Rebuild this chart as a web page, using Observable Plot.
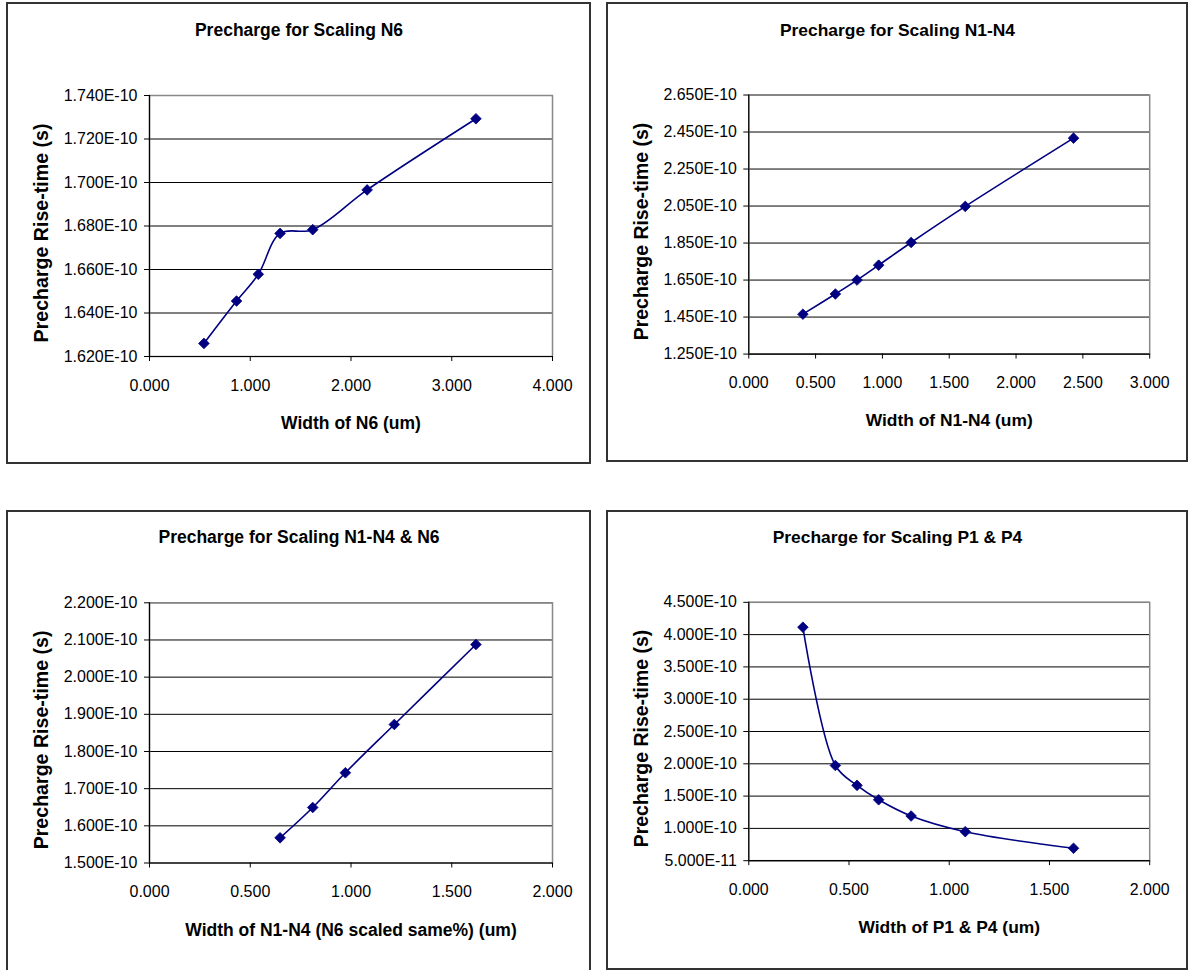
<!DOCTYPE html>
<html>
<head>
<meta charset="utf-8">
<script src="https://cdn.jsdelivr.net/npm/d3@7"></script>
<script src="https://cdn.jsdelivr.net/npm/@observablehq/plot@0.6"></script>
<style>
  html, body { margin: 0; padding: 0; background: #fff; width: 1188px; height: 970px; overflow: hidden; }
  .panel { position: absolute; }
  .panel svg { display: block; outline: 2px solid #333; outline-offset: -2px; background: #fff; }
</style>
</head>
<body>
<div id="pA" class="panel" style="left:6px; top:2px;"></div>
<div id="pB" class="panel" style="left:606px; top:2px;"></div>
<div id="pC" class="panel" style="left:6px; top:510px;"></div>
<div id="pD" class="panel" style="left:606px; top:510px;"></div>
<script>
// ---- Panel A: Scaling N6 ----
const titleA = "Precharge for Scaling N6";
const xLabelA = "Width of N6 (um)";
const widthA = [0.54, 0.864, 1.08, 1.296, 1.62, 2.16, 3.24];
const riseA = [1.626e-10, 1.6455e-10, 1.6578e-10, 1.6766e-10, 1.6783e-10, 1.6966e-10, 1.7293e-10];
const xTicksA = [0, 1, 2, 3, 4];
const yTicksA = [1.62e-10, 1.64e-10, 1.66e-10, 1.68e-10, 1.70e-10, 1.72e-10, 1.74e-10];

// ---- Panel B: Scaling N1-N4 ----
const titleB = "Precharge for Scaling N1-N4";
const xLabelB = "Width of N1-N4 (um)";
const widthB = [0.405, 0.648, 0.81, 0.972, 1.215, 1.62, 2.43];
const riseB = [1.4656e-10, 1.5747e-10, 1.650e-10, 1.7306e-10, 1.853e-10, 2.048e-10, 2.417e-10];
const xTicksB = [0, 0.5, 1, 1.5, 2, 2.5, 3];
const yTicksB = [1.25e-10, 1.45e-10, 1.65e-10, 1.85e-10, 2.05e-10, 2.25e-10, 2.45e-10, 2.65e-10];

// ---- Panel C: Scaling N1-N4 & N6 ----
const titleC = "Precharge for Scaling N1-N4 & N6";
const xLabelC = "Width of N1-N4 (N6 scaled same%) (um)";
const widthC = [0.648, 0.81, 0.972, 1.215, 1.62];
const riseC = [1.5678e-10, 1.6493e-10, 1.7427e-10, 1.8726e-10, 2.0878e-10];
const xTicksC = [0, 0.5, 1, 1.5, 2];
const yTicksC = [1.5e-10, 1.6e-10, 1.7e-10, 1.8e-10, 1.9e-10, 2.0e-10, 2.1e-10, 2.2e-10];

// ---- Panel D: Scaling P1 & P4 ----
const titleD = "Precharge for Scaling P1 & P4";
const xLabelD = "Width of P1 & P4 (um)";
const widthD = [0.27, 0.432, 0.54, 0.648, 0.81, 1.08, 1.62];
const riseD = [4.115e-10, 1.974e-10, 1.666e-10, 1.443e-10, 1.192e-10, 0.949e-10, 0.692e-10];
const xTicksD = [0, 0.5, 1, 1.5, 2];
const yTicksD = [0.5e-10, 1.0e-10, 1.5e-10, 2.0e-10, 2.5e-10, 3.0e-10, 3.5e-10, 4.0e-10, 4.5e-10];

const yLabel = "Precharge Rise-time (s)";
const navy = "#000080";
const fontFamily = "'Liberation Sans', Arial, Helvetica, sans-serif";

function fmtY(v) { return v.toExponential(3).toUpperCase(); }
const fmtX = d3.format(".3f");

function makePanel(el, opts) {
  const W = 585, H = 462;
  const {title, xLabel, xs, ys, xTicks, yTicks, marginTop, marginBottom} = opts;
  const data = xs.map((x, i) => ({x, y: ys[i]}));
  const xDom = [xTicks[0], xTicks[xTicks.length - 1]];
  const yDom = [yTicks[0], yTicks[yTicks.length - 1]];
  const marginLeft = 143, marginRight = 39;
  const frameCx = marginLeft + (W - marginLeft - marginRight) / 2;
  const chart = Plot.plot({
    width: W,
    height: H,
    marginLeft, marginRight, marginTop, marginBottom,
    style: {fontFamily, fontSize: "16px", color: "#000", background: "#fff"},
    x: {domain: xDom},
    y: {domain: yDom},
    marks: [
      Plot.gridY(yTicks, {stroke: "#000", strokeOpacity: 1, strokeWidth: 1}),
      Plot.frame({stroke: "#888", strokeWidth: 1.5}),
      Plot.ruleX([xDom[0]], {stroke: "#000", strokeWidth: 1.2}),
      Plot.ruleY([yDom[0]], {stroke: "#000", strokeWidth: 1.2}),
      Plot.axisY({ticks: yTicks, tickFormat: fmtY, tickSize: 5, tickPadding: 7, label: null, fontSize: 16}),
      Plot.axisX({ticks: xTicks, tickFormat: fmtX, tickSize: 5, tickPadding: 18, label: null, fontSize: 16}),
      Plot.line(data, {x: "x", y: "y", stroke: navy, strokeWidth: 1.6, curve: "catmull-rom"}),
      Plot.dot(data, {x: "x", y: "y", symbol: "diamond2", r: 4.8, fill: navy, stroke: navy, strokeWidth: 0.8}),
      Plot.text([title], {frameAnchor: "top", dx: W / 2 - frameCx, dy: -65, fontSize: 17.5, fontWeight: "bold", lineAnchor: "middle", fill: "#000"}),
      Plot.text([xLabel], {frameAnchor: "bottom", dy: 67, fontSize: 17.5, fontWeight: "bold", lineAnchor: "middle", fill: "#000"}),
      Plot.text([yLabel], {frameAnchor: "left", rotate: -90, dx: -108, dy: 7, fontSize: 19.6, fontWeight: "bold", textAnchor: "middle", lineAnchor: "middle", fill: "#000"})
    ]
  });
  document.getElementById(el).appendChild(chart);
}

makePanel("pA", {title: titleA, xLabel: xLabelA, xs: widthA, ys: riseA, xTicks: xTicksA, yTicks: yTicksA, marginTop: 93, marginBottom: 108});
makePanel("pB", {title: titleB, xLabel: xLabelB, xs: widthB, ys: riseB, xTicks: xTicksB, yTicks: yTicksB, marginTop: 93, marginBottom: 108.6});
makePanel("pC", {title: titleC, xLabel: xLabelC, xs: widthC, ys: riseC, xTicks: xTicksC, yTicks: yTicksC, marginTop: 92.3, marginBottom: 109.5});
makePanel("pD", {title: titleD, xLabel: xLabelD, xs: widthD, ys: riseD, xTicks: xTicksD, yTicks: yTicksD, marginTop: 92.3, marginBottom: 110});
</script>
</body>
</html>
